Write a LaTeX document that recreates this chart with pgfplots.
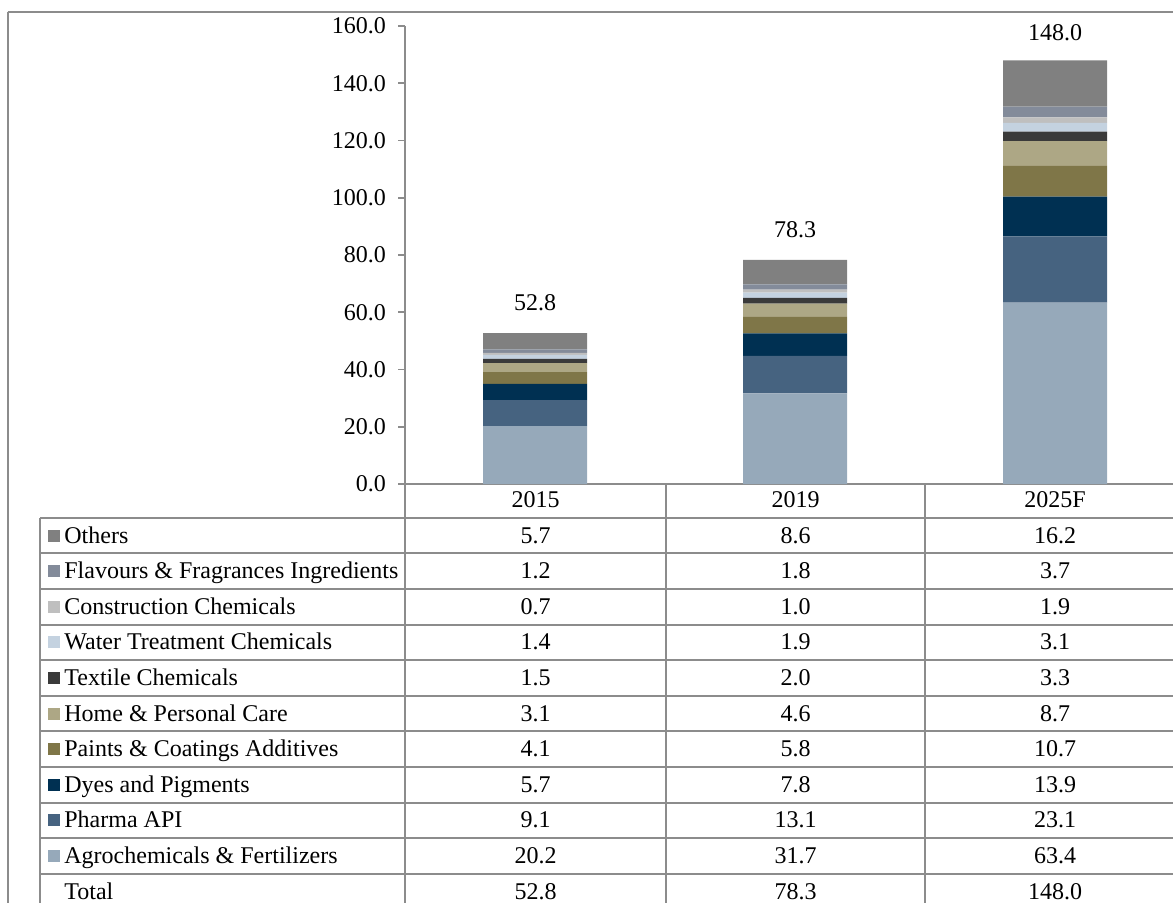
\documentclass[border=0pt]{standalone}
\usepackage{fontspec}
\setmainfont{Liberation Serif}
\usepackage{pgfplots}
\pgfplotsset{compat=1.18}

\definecolor{cAgro}{RGB}{150,169,186}
\definecolor{cPharma}{RGB}{70,99,128}
\definecolor{cDyes}{RGB}{0,48,82}
\definecolor{cPaints}{RGB}{127,118,72}
\definecolor{cHome}{RGB}{173,167,133}
\definecolor{cTextile}{RGB}{58,58,58}
\definecolor{cWater}{RGB}{196,210,224}
\definecolor{cConstr}{RGB}{191,191,191}
\definecolor{cFlav}{RGB}{131,139,154}
\definecolor{cOthers}{RGB}{128,128,128}
\definecolor{rule}{RGB}{140,140,140}

\newcommand{\tf}{\fontsize{12}{13.5}\selectfont}

\begin{document}
\begin{tikzpicture}
\begin{scope}
\clip (0,0) rectangle (586.5pt,451pt);
\begin{axis}[
  at={(202.5pt,209pt)}, anchor=south west, scale only axis,
  width=390pt, height=229pt,
  xmin=-0.5, xmax=2.5, ymin=0, ymax=160,
  ybar stacked, bar width=52pt,
  axis lines*=left, xtick=\empty,
  ytick={0,20,...,160},
  tick align=outside, major tick length=3.5pt,
  axis line style={rule, line width=1pt},
  tick style={rule, line width=0.8pt},
  y tick label style={font=\tf, xshift=-2.5pt, /pgf/number format/.cd, fixed, fixed zerofill, precision=1, assume math mode=true},
  every axis plot/.append style={draw=none},
  clip=false,
]
\addplot[fill=cAgro]    coordinates {(0,20.2) (1,31.7) (2,63.4)};
\addplot[fill=cPharma]  coordinates {(0,9.1) (1,13.1) (2,23.1)};
\addplot[fill=cDyes]    coordinates {(0,5.7) (1,7.8) (2,13.9)};
\addplot[fill=cPaints]  coordinates {(0,4.1) (1,5.8) (2,10.7)};
\addplot[fill=cHome]    coordinates {(0,3.1) (1,4.6) (2,8.7)};
\addplot[fill=cTextile] coordinates {(0,1.5) (1,2.0) (2,3.3)};
\addplot[fill=cWater]   coordinates {(0,1.4) (1,1.9) (2,3.1)};
\addplot[fill=cConstr]  coordinates {(0,0.7) (1,1.0) (2,1.9)};
\addplot[fill=cFlav]    coordinates {(0,1.2) (1,1.8) (2,3.7)};
\addplot[fill=cOthers]  coordinates {(0,5.7) (1,8.6) (2,16.2)};
% totals above the bars
\node[font=\tf, anchor=base, inner sep=0, yshift=11pt] at (axis cs:0,52.8) {52.8};
\node[font=\tf, anchor=base, inner sep=0, yshift=11pt] at (axis cs:1,78.3) {78.3};
\node[font=\tf, anchor=base, inner sep=0, yshift=10pt] at (axis cs:2,148.0) {148.0};
\end{axis}

\begin{scope}[shift={(0,451pt)}, x=0.5pt, y=-0.5pt]
  \draw[rule, line width=1pt] (7.5,12.5) -- (1190,12.5);
  \draw[rule, line width=1pt] (7.5,12.5) -- (7.5,910);
  \foreach \k in {0,...,10} \draw[rule, line width=1pt] (40,{517.7+35.6*\k}) -- (1190,{517.7+35.6*\k});
  \draw[rule, line width=1pt] (40,517.7) -- (40,910);
  \draw[rule, line width=1pt] (405,484) -- (405,910);
  \draw[rule, line width=1pt] (666,484) -- (666,910);
  \draw[rule, line width=1pt] (925,484) -- (925,910);
  \node[font=\tf, anchor=base] at (535.5,507.5) {2015};
  \node[font=\tf, anchor=base] at (795.5,507.5) {2019};
  \node[font=\tf, anchor=base] at (1055,507.5) {2025F};
  \foreach \name/\col/\a/\b/\c [count=\i from 0] in {
    Others/cOthers/5.7/8.6/16.2,
    Flavours \& Fragrances Ingredients/cFlav/1.2/1.8/3.7,
    Construction Chemicals/cConstr/0.7/1.0/1.9,
    Water Treatment Chemicals/cWater/1.4/1.9/3.1,
    Textile Chemicals/cTextile/1.5/2.0/3.3,
    Home \& Personal Care/cHome/3.1/4.6/8.7,
    Paints \& Coatings Additives/cPaints/4.1/5.8/10.7,
    Dyes and Pigments/cDyes/5.7/7.8/13.9,
    Pharma API/cPharma/9.1/13.1/23.1,
    Agrochemicals \& Fertilizers/cAgro/20.2/31.7/63.4,
    Total/white/52.8/78.3/148.0} {
    \pgfmathsetmacro{\yy}{535.5+35.6*\i}
    \fill[\col] (48,\yy-6) rectangle (60,\yy+6);
    \node[font=\tf, anchor=base west, inner sep=0] at (64,\yy+7.5) {\name};
    \node[font=\tf, anchor=base, inner sep=0] at (535.5,\yy+7.5) {\a};
    \node[font=\tf, anchor=base, inner sep=0] at (795.5,\yy+7.5) {\b};
    \node[font=\tf, anchor=base, inner sep=0] at (1055,\yy+7.5) {\c};
  }
\end{scope}
\end{scope}
\pgfresetboundingbox
\path[use as bounding box] (0,0) rectangle (586.5pt,451pt);
\end{tikzpicture}
\end{document}
